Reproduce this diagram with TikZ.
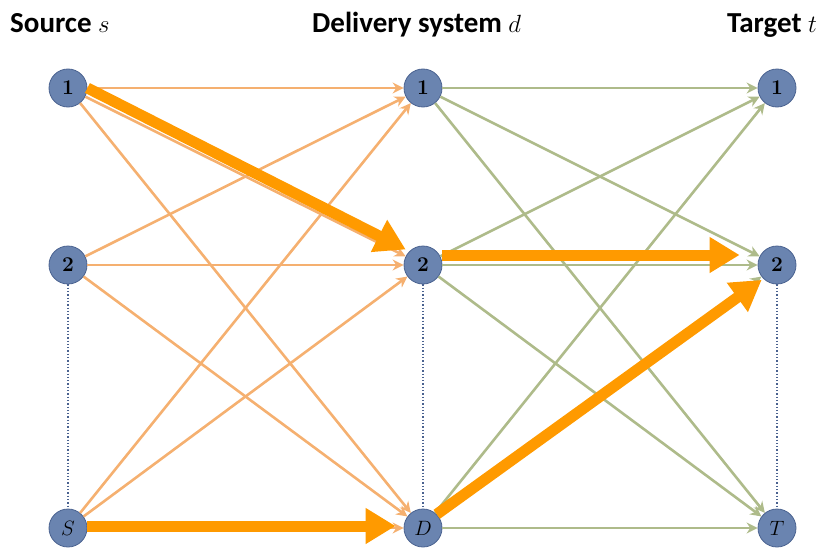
\documentclass[tikz,border=0pt]{standalone}
\usepackage{fontspec}
\setmainfont{Latin Modern Roman}
\newfontfamily\titlefont{Carlito}
\usetikzlibrary{arrows.meta,positioning,calc}
\definecolor{nodeblue}{HTML}{6A84B0}
\definecolor{nodeedge}{HTML}{4A6290}
\definecolor{thinorange}{HTML}{F5B070}
\definecolor{thingreen}{HTML}{AEBB8A}
\definecolor{thickorange}{HTML}{FF9A00}
\definecolor{dotblue}{HTML}{4A6290}

\tikzset{
  vert/.style={circle, fill=nodeblue, draw=nodeedge, line width=0.8pt, minimum size=38pt, inner sep=0pt, font=\fontsize{21}{21}\selectfont},
  title/.style={anchor=base west, inner sep=0pt, font=\titlefont\bfseries\fontsize{29}{29}\selectfont},
  sendarrow/.style={thinorange, line width=2.6pt, -{Stealth[length=11pt,width=11pt]}},
  recvarrow/.style={thingreen, line width=2.6pt, -{Stealth[length=11pt,width=11pt]}},
  patharrow/.style={thickorange, line width=11pt, -{Triangle[length=30pt,width=34pt]}},
  gap/.style={dotblue, line width=1.3pt, dotted}
}

\begin{document}
\begin{tikzpicture}[x=1pt, y=-1pt]
  \useasboundingbox (0,0) rectangle (821,551);

  % column titles
  \node[title] (tsrc) at (10,33) {Source $s$};
  \node[title] (tdel) at (312,33) {Delivery system $d$};
  \node[title] (ttgt) at (727,33) {Target $t$};

  % vertices
  \node[vert] (s1) at (68,88) {\textbf{1}};
  \node[vert] (s2) at (68,265) {\textbf{2}};
  \node[vert] (sS) at (68,528) {$S$};
  \node[vert] (d1) at (423,88) {\textbf{1}};
  \node[vert] (d2) at (423,265) {\textbf{2}};
  \node[vert] (dD) at (423,528) {$D$};
  \node[vert] (t1) at (777,88) {\textbf{1}};
  \node[vert] (t2) at (777,265) {\textbf{2}};
  \node[vert] (tT) at (777,528) {$T$};

  % dotted gaps
  \draw[gap] (s2) -- (sS);
  \draw[gap] (d2) -- (dD);
  \draw[gap] (t2) -- (tT);

  % all links
  \foreach \a in {s1,s2,sS}
    \foreach \b in {d1,d2,dD}
      \draw[sendarrow] (\a) -- (\b);
  \foreach \a in {d1,d2,dD}
    \foreach \b in {t1,t2,tT}
      \draw[recvarrow] (\a) -- (\b);

  % chosen paths
  \draw[patharrow, shorten >=4pt] (s1.east) -- (d2.north west);
  \draw[patharrow, shorten >=18pt] ([yshift=10pt]d2.east) -- ([yshift=10pt]t2.west);
  \draw[patharrow, shorten >=8pt] ([yshift=2pt]sS.east) -- ([yshift=2pt]dD.west);
  \draw[patharrow, shorten >=2pt] (dD.north east) -- (t2.south west);
\end{tikzpicture}
\end{document}
